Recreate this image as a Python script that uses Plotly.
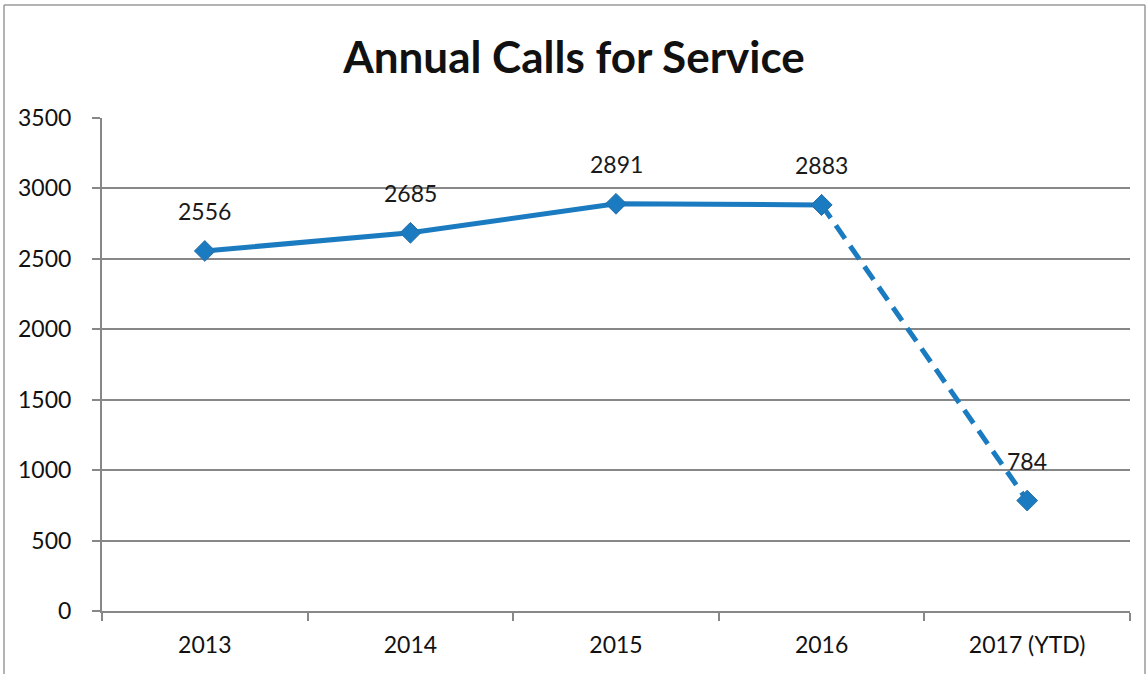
import plotly.graph_objects as go

# Annual call counts (2017 is year-to-date)
years = ["2013", "2014", "2015", "2016", "2017 (YTD)"]
calls = [2556, 2685, 2891, 2883, 784]
y_ticks = [0, 500, 1000, 1500, 2000, 2500, 3000, 3500]

W, H = 1148, 674
ML, MR, MT, MB = 102, 18, 118, 63
BLUE = "#1b7bc0"
GRID = "#878787"
FONT = "Lato, Calibri, Carlito, sans-serif"

fig = go.Figure()

# Complete years: solid line
fig.add_trace(go.Scatter(
    x=years[:4], y=calls[:4], mode="lines+markers",
    line=dict(color=BLUE, width=5),
    marker=dict(symbol="diamond", size=16, color=BLUE,
                line=dict(color="#2a6fa8", width=1)),
    showlegend=False, hoverinfo="x+y",
))
# Partial year: dashed segment from last full year
fig.add_trace(go.Scatter(
    x=years[3:], y=calls[3:], mode="lines+markers",
    line=dict(color=BLUE, width=5, dash="16px,9px"),
    marker=dict(symbol="diamond", size=16, color=BLUE,
                line=dict(color="#2a6fa8", width=1)),
    showlegend=False, hoverinfo="x+y",
))

# Value labels above each point (x given as category index)
for i, v in enumerate(calls):
    fig.add_annotation(x=i, y=v, text=str(v), showarrow=False,
                       yshift=40, font=dict(family=FONT, size=23, color="#1a1a1a"))

# Outer chart frame
frame = dict(type="line", xref="paper", yref="paper",
             line=dict(color="#9a9a9a", width=1.5))
x0 = (4 - ML) / (W - ML - MR)
x1 = (W - 3 - ML) / (W - ML - MR)
y_top = 1 + (MT - 5) / (H - MT - MB)
y_bot = -MB / (H - MT - MB)
fig.add_shape(**frame, x0=x0, x1=x1, y0=y_top, y1=y_top)
fig.add_shape(**frame, x0=x0, x1=x0, y0=y_bot, y1=y_top)
fig.add_shape(**frame, x0=x1, x1=x1, y0=y_bot, y1=y_top)

fig.update_layout(
    width=W, height=H,
    margin=dict(l=ML, r=MR, t=MT, b=MB),
    paper_bgcolor="white", plot_bgcolor="white",
    title=dict(text="<b>Annual Calls for Service</b>", x=0.5, xanchor="center",
               y=1 - 58 / H, yanchor="middle",
               font=dict(family=FONT, size=44, color="#111111")),
    font=dict(family=FONT, size=23, color="#111111"),
)
fig.update_xaxes(
    type="category", categoryorder="array", categoryarray=years,
    range=[-0.5, len(years) - 0.5], autorange=False,
    showgrid=False, showline=True, linecolor=GRID, linewidth=2,
    ticks="outside", tickson="boundaries", ticklen=8, tickcolor=GRID, tickwidth=1.5,
    tickangle=0, ticklabelstandoff=12,
    tickfont=dict(family=FONT, size=23, color="#111111"), zeroline=False,
)
fig.update_yaxes(
    range=[0, 3500], tickvals=y_ticks,
    showgrid=True, gridcolor=GRID, gridwidth=2,
    showline=True, linecolor=GRID, linewidth=2,
    ticks="outside", ticklen=8, tickcolor=GRID, tickwidth=1.5,
    ticklabelstandoff=16,
    tickfont=dict(family=FONT, size=23, color="#111111"), zeroline=False,
)

fig.write_html("out.html")
